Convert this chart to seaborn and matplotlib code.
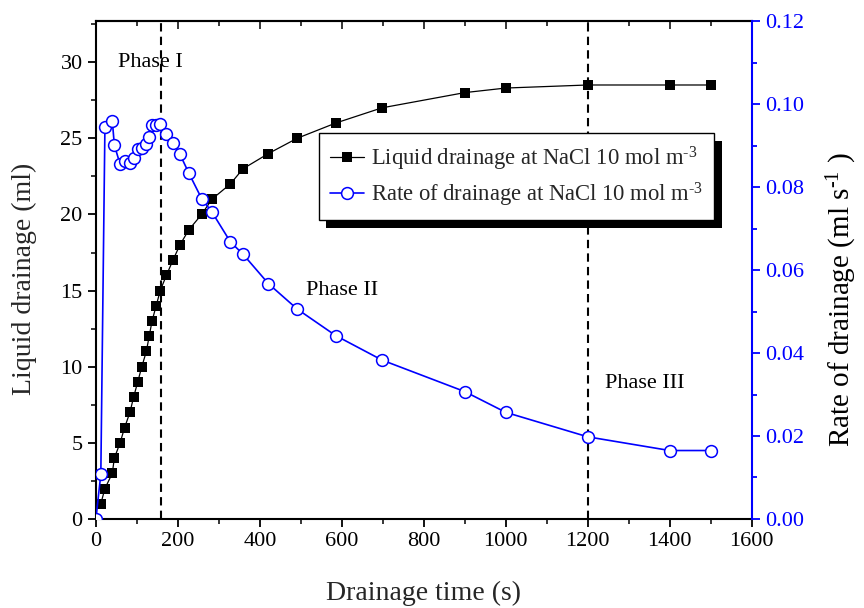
import matplotlib
matplotlib.use("Agg")
import matplotlib.pyplot as plt
import matplotlib.patheffects as pe
from matplotlib.ticker import MultipleLocator, FormatStrFormatter
import pandas as pd
import seaborn as sns

# Drainage time (s) for each reading
time_s = [0, 12, 22, 40, 45, 59, 70, 83, 92, 102, 112, 123, 130, 137, 147, 157,
          172, 188, 205, 227, 258, 283, 328, 359, 421, 491, 585, 698, 900, 1000,
          1200, 1400, 1500]

# Cumulative liquid drained (ml), from the first reading onwards
liquid_ml = [1, 2, 3, 4, 5, 6, 7, 8, 9, 10, 11, 12, 13, 14, 15, 16, 17, 18, 19,
             20, 21, 22, 23, 24, 25, 26, 27, 28, 28.3, 28.5, 28.5, 28.5]

# Rate of drainage (ml/s)
rate_mls = [0.0, 0.0108, 0.0944, 0.0960, 0.0901, 0.0855, 0.0863, 0.0857, 0.0871,
            0.0891, 0.0893, 0.0903, 0.0921, 0.0949, 0.0950, 0.0953, 0.0927,
            0.0907, 0.0879, 0.0833, 0.0772, 0.0740, 0.0668, 0.0638, 0.0567,
            0.0506, 0.0442, 0.0383, 0.0307, 0.0257, 0.0198, 0.0165, 0.0165]

phase_lines = [160, 1200]
phase_labels = ["Phase I", "Phase II", "Phase III"]
phase_pos = [(54, 30.0), (512, 15.0), (1241, 8.9)]

sns.set_theme(style="ticks")
plt.rcParams["font.family"] = ["Liberation Serif", "DejaVu Serif"]
plt.rcParams["mathtext.fontset"] = "custom"
plt.rcParams["mathtext.rm"] = "Liberation Serif"
plt.rcParams["mathtext.it"] = "Liberation Serif:italic"
plt.rcParams["mathtext.bf"] = "Liberation Serif:bold"

BLUE = "#0000ff"
TICK_FS = 16
LABEL_FS = 20

fig = plt.figure(figsize=(8.64, 6.08), dpi=100)
ax = fig.add_axes([0.111, 0.1464, 0.759, 0.819])
ax2 = ax.twinx()

liq = pd.DataFrame({"t": time_s[1:], "v": liquid_ml})
rate = pd.DataFrame({"t": time_s, "r": rate_mls})

sns.lineplot(data=liq, x="t", y="v", ax=ax, sort=False, color="black",
             marker="s", markersize=7.5, markeredgewidth=0, linewidth=0.9,
             label=r"Liquid drainage at NaCl 10 mol m$^{\text{-3}}$", zorder=3)
sns.lineplot(data=rate, x="t", y="r", ax=ax2, sort=False, color=BLUE,
             marker="o", markersize=8.5, markerfacecolor="white",
             markeredgecolor=BLUE, markeredgewidth=1.1, linewidth=1.2,
             label=r"Rate of drainage at NaCl 10 mol m$^{\text{-3}}$", zorder=3)

# Phase boundaries
for xv in phase_lines:
    ax.axvline(xv, color="black", linestyle=(0, (4, 2.5)), linewidth=1.5, zorder=2)
for txt, (px, py) in zip(phase_labels, phase_pos):
    ax.text(px, py, txt, fontsize=TICK_FS, ha="left", va="center", color="black")

# Axis limits and ticks
ax.set_xlim(0, 1600)
ax.set_ylim(0, 32.7)
ax2.set_ylim(0, 0.12)
ax.xaxis.set_major_locator(MultipleLocator(200))
ax.xaxis.set_minor_locator(MultipleLocator(100))
ax.yaxis.set_major_locator(MultipleLocator(5))
ax.yaxis.set_minor_locator(MultipleLocator(2.5))
ax2.yaxis.set_major_locator(MultipleLocator(0.02))
ax2.yaxis.set_minor_locator(MultipleLocator(0.01))
ax2.yaxis.set_major_formatter(FormatStrFormatter("%.2f"))

ax.tick_params(axis="both", which="major", direction="out", length=6, width=1.3,
               labelsize=TICK_FS, colors="black", right=False)
ax.tick_params(axis="both", which="minor", direction="out", length=3.5, width=1.3,
               right=False)
ax2.tick_params(axis="y", which="major", direction="out", length=6, width=1.3,
                labelsize=TICK_FS, colors=BLUE)
ax2.tick_params(axis="y", which="minor", direction="out", length=3.5, width=1.3,
                colors=BLUE)

# Inward ticks along the top edge
top = ax.secondary_xaxis("top")
top.xaxis.set_major_locator(MultipleLocator(200))
top.xaxis.set_minor_locator(MultipleLocator(100))
top.tick_params(which="major", direction="in", length=6, width=1.3, labeltop=False)
top.tick_params(which="minor", direction="in", length=3.5, width=1.3)
top.spines["top"].set_linewidth(1.5)

for side in ["left", "bottom", "top"]:
    ax.spines[side].set_linewidth(1.5)
    ax.spines[side].set_color("black")
ax.spines["right"].set_visible(False)
for side in ["left", "bottom", "top"]:
    ax2.spines[side].set_visible(False)
ax2.spines["right"].set_color(BLUE)
ax2.spines["right"].set_linewidth(1.5)

ax.set_xlabel("Drainage time (s)", fontsize=LABEL_FS)
ax.set_ylabel("Liquid drainage (ml)", fontsize=LABEL_FS)
ax2.set_ylabel(r"Rate of drainage (ml s$^{\text{-1}}$ )", fontsize=21,
               color="black")
ax.xaxis.set_label_coords(0.5, -0.125)
ax.yaxis.set_label_coords(-0.09, 0.482)
ax2.yaxis.set_label_coords(1.112, 0.44)

# Combined legend with a solid drop shadow
h1, l1 = ax.get_legend_handles_labels()
h2, l2 = ax2.get_legend_handles_labels()
if ax.get_legend() is not None:
    ax.get_legend().remove()
leg = ax2.legend(h1 + h2, l1 + l2, loc="upper left",
                 bbox_to_anchor=(0.369, 0.781), bbox_transform=fig.transFigure,
                 frameon=True, fancybox=False, framealpha=1, edgecolor="black",
                 fontsize=16.3, handlelength=1.5, handletextpad=0.3,
                 borderpad=0.5, labelspacing=0.35, borderaxespad=0)
leg.get_frame().set_linewidth(1.0)
leg.get_frame().set_path_effects([
    pe.SimplePatchShadow(offset=(5.4, -5.4), shadow_rgbFace="black", alpha=1.0),
    pe.Normal(),
])
leg.set_zorder(10)

fig.savefig("out.png", dpi=100)
